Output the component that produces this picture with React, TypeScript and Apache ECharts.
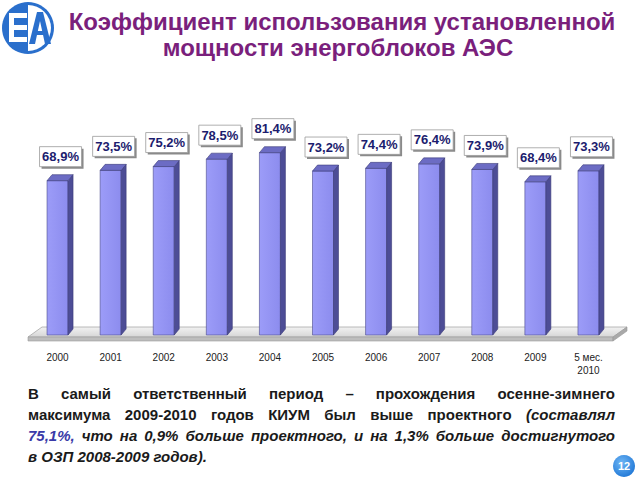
import React, { useEffect, useRef } from "react";
import * as echarts from "echarts";

const categories = ["2000", "2001", "2002", "2003", "2004", "2005", "2006", "2007", "2008", "2009", "5 мес.\n2010"];
const values = [68.9, 73.5, 75.2, 78.5, 81.4, 73.2, 74.4, 76.4, 73.9, 68.4, 73.3];
const valueLabels = values.map((v) => v.toFixed(1).replace(".", ",") + "%");

const titleLines = ["Коэффициент использования установленной", "мощности энергоблоков АЭС"];

type Word = { t: string; italic?: boolean; color?: string };
const paragraph: { words: Word[]; justify: boolean }[] = [
  {
    justify: true,
    words: "В самый ответственный период – прохождения осенне-зимнего".split(" ").map((t) => ({ t })),
  },
  {
    justify: true,
    words: [
      ..."максимума 2009-2010 годов КИУМ был выше проектного".split(" ").map((t) => ({ t })),
      { t: "(составлял", italic: true },
    ],
  },
  {
    justify: true,
    words: [
      { t: "75,1%,", italic: true, color: "#3a3aa8" },
      ..."что на 0,9% больше проектного, и на 1,3% больше достигнутого".split(" ").map((t) => ({ t, italic: true })),
    ],
  },
  {
    justify: false,
    words: "в ОЗП 2008-2009 годов).".split(" ").map((t) => ({ t, italic: true })),
  },
];

const FF = '"Liberation Sans", Arial, sans-serif';
const TEXT_SIZE = 15;
const TEXT_LEFT = 28;
const TEXT_RIGHT = 615;
const LINE_Y = [393, 414, 435, 456];

export default function App() {
  const ref = useRef<HTMLDivElement>(null);
  useEffect(() => {
    if (!ref.current) return;
    const chart = echarts.init(ref.current, null, { renderer: "svg" });

    // justified paragraph
    const cv = document.createElement("canvas");
    const ctx = cv.getContext("2d")!;
    const fontOf = (w: Word) => `${w.italic ? "italic " : ""}bold ${TEXT_SIZE}px ${FF}`;
    const textEls: any[] = [];
    paragraph.forEach((line, li) => {
      const widths = line.words.map((w) => {
        ctx.font = fontOf(w);
        return ctx.measureText(w.t).width;
      });
      ctx.font = `bold ${TEXT_SIZE}px ${FF}`;
      const space = ctx.measureText(" ").width;
      const sum = widths.reduce((a, b) => a + b, 0);
      let gap = line.justify && line.words.length > 1 ? (TEXT_RIGHT - TEXT_LEFT - sum) / (line.words.length - 1) : space;
      if (gap < 2) gap = 2;
      let x = TEXT_LEFT;
      line.words.forEach((w, i) => {
        textEls.push({
          type: "text",
          style: {
            text: w.t,
            x,
            y: LINE_Y[li],
            font: fontOf(w),
            fill: w.color || "#1a1a1a",
            textAlign: "left",
            textVerticalAlign: "middle",
          },
        });
        x += widths[i] + gap;
      });
    });

    const option: any = {
      animation: false,
      backgroundColor: "#ffffff",
      grid: { left: 31, right: 25, top: 111, bottom: 145 },
      xAxis: {
        type: "category",
        data: categories,
        axisLine: { show: false },
        axisTick: { show: false },
        axisLabel: {
          margin: 16,
          fontSize: 10,
          lineHeight: 13,
          color: "#222",
          fontFamily: FF,
        },
      },
      yAxis: { type: "value", min: 0, max: 100, show: false, splitLine: { show: false } },
      graphic: [
        // floor
        {
          type: "polygon",
          z: 1,
          shape: { points: [[42, 327], [627, 327], [613, 337], [28, 337]] },
          style: {
            fill: new echarts.graphic.LinearGradient(0, 0, 0, 1, [
              { offset: 0, color: "#f2f2f2" },
              { offset: 1, color: "#d6d6d6" },
            ]),
            stroke: "#a8a8a8",
            lineWidth: 0.8,
          },
        },
        {
          type: "polygon",
          z: 1,
          shape: { points: [[28, 337], [613, 337], [613, 341], [28, 341]] },
          style: { fill: "#bdbdbd", stroke: "#9a9a9a", lineWidth: 0.6 },
        },
        {
          type: "polygon",
          z: 1,
          shape: { points: [[613, 337], [627, 327], [627, 331], [613, 341]] },
          style: { fill: "#a9a9a9", stroke: "#999", lineWidth: 0.6 },
        },
        // logo
        { type: "circle", shape: { cx: 28, cy: 28, r: 26 }, style: { fill: "#2a6fcc" } },
        {
          type: "sector",
          shape: { cx: 28, cy: 28, r: 23, r0: 0, startAngle: -Math.PI / 2, endAngle: Math.PI / 2 },
          style: { fill: "#ffffff" },
        },
        { type: "rect", shape: { x: 9, y: 13, width: 18, height: 5 }, style: { fill: "#ffffff" } },
        { type: "rect", shape: { x: 9, y: 25, width: 18, height: 5 }, style: { fill: "#ffffff" } },
        { type: "rect", shape: { x: 9, y: 37, width: 18, height: 5 }, style: { fill: "#ffffff" } },
        { type: "rect", shape: { x: 9, y: 13, width: 5, height: 29 }, style: { fill: "#ffffff" } },
        {
          type: "polygon",
          shape: { points: [[29, 44], [37, 12], [43, 12], [51, 44], [45, 44], [40, 21], [35, 44]] },
          style: { fill: "#2a6fcc" },
        },
        { type: "rect", shape: { x: 34, y: 31, width: 13, height: 4 }, style: { fill: "#2a6fcc" } },
        // title
        {
          type: "text",
          style: {
            text: titleLines[0],
            x: 342,
            y: 21,
            font: `bold 24px ${FF}`,
            fill: "#7a1f7c",
            textAlign: "center",
            textVerticalAlign: "middle",
          },
        },
        {
          type: "text",
          style: {
            text: titleLines[1],
            x: 338,
            y: 47,
            font: `bold 24px ${FF}`,
            fill: "#7a1f7c",
            textAlign: "center",
            textVerticalAlign: "middle",
          },
        },
        // page number
        {
          type: "circle",
          shape: { cx: 624, cy: 466, r: 11 },
          style: {
            fill: new echarts.graphic.RadialGradient(0.4, 0.35, 0.7, [
              { offset: 0, color: "#6fb6f5" },
              { offset: 1, color: "#1f77d6" },
            ]),
          },
        },
        {
          type: "text",
          style: {
            text: "12",
            x: 624,
            y: 466,
            font: `bold 11px ${FF}`,
            fill: "#ffffff",
            textAlign: "center",
            textVerticalAlign: "middle",
          },
        },
        ...textEls,
      ],
      series: [
        {
          type: "custom",
          z: 5,
          data: values.map((v, i) => [i, v]),
          renderItem: (params: any, api: any) => {
            const idx = api.value(0);
            const v = api.value(1);
            const top = api.coord([idx, v]);
            const base = api.coord([idx, 0]);
            const w = 21;
            const dx = 5;
            const dy = 6;
            const xL = top[0] - w / 2;
            const xR = top[0] + w / 2;
            const bx = top[0] + 3 - 21;
            const by = top[1] - 34;
            return {
              type: "group",
              children: [
                {
                  type: "rect",
                  shape: { x: xL, y: top[1], width: w, height: base[1] - top[1] },
                  style: {
                    fill: new echarts.graphic.LinearGradient(0, 0, 1, 0, [
                      { offset: 0, color: "#9c9cf8" },
                      { offset: 1, color: "#8c8cee" },
                    ]),
                    stroke: "#4a4a8c",
                    lineWidth: 0.6,
                  },
                },
                {
                  type: "polygon",
                  shape: { points: [[xR, top[1]], [xR + dx, top[1] - dy], [xR + dx, base[1] - dy], [xR, base[1]]] },
                  style: { fill: "#4d4d96", stroke: "#3a3a78", lineWidth: 0.6 },
                },
                {
                  type: "polygon",
                  shape: { points: [[xL, top[1]], [xL + dx, top[1] - dy], [xR + dx, top[1] - dy], [xR, top[1]]] },
                  style: { fill: "#6c6cc4", stroke: "#3a3a78", lineWidth: 0.6 },
                },
                {
                  type: "rect",
                  shape: { x: bx + 2, y: by + 2, width: 42, height: 20 },
                  style: { fill: "#8a8a8a" },
                },
                {
                  type: "rect",
                  shape: { x: bx, y: by, width: 42, height: 20 },
                  style: { fill: "#ffffff", stroke: "#9a9a9a", lineWidth: 0.8 },
                },
                {
                  type: "text",
                  style: {
                    text: valueLabels[idx],
                    x: bx + 21,
                    y: by + 10,
                    font: `bold 13px ${FF}`,
                    fill: "#1c1c6e",
                    textAlign: "center",
                    textVerticalAlign: "middle",
                  },
                },
              ],
            };
          },
        },
      ],
    };
    chart.setOption(option);
    return () => chart.dispose();
  }, []);
  return <div ref={ref} style={{ position: "fixed", left: 0, top: 0, width: 640, height: 480 }} />;
}
